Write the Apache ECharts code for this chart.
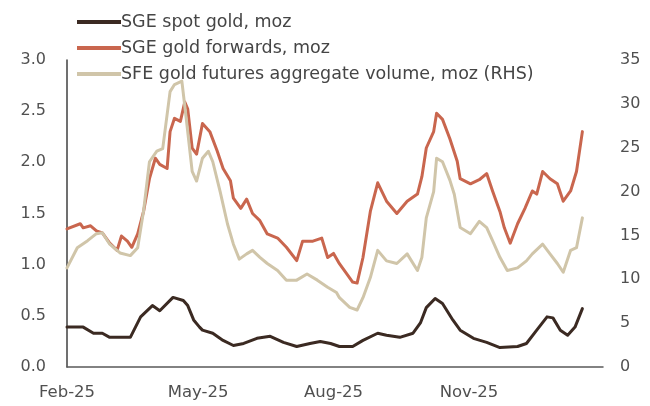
<!DOCTYPE html>
<html>
<head>
<meta charset="utf-8">
<script src="https://cdn.jsdelivr.net/npm/echarts@6/dist/echarts.min.js"></script>
<style>
html,body{margin:0;padding:0;background:#fff;}
#chart{width:650px;height:406px;}
</style>
</head>
<body>
<div id="chart"></div>
<script>
// ---- Data ----
var seriesNames = ['SGE spot gold, moz', 'SGE gold forwards, moz', 'SFE gold futures aggregate volume, moz (RHS)'];
var xTickDates = ['2025-02-01', '2025-05-01', '2025-08-01', '2025-11-01'];
var xMin = '2025-02-01';
var xMax = '2026-01-31';
var leftTicks = [0, 0.5, 1.0, 1.5, 2.0, 2.5, 3.0];
var rightTicks = [0, 5, 10, 15, 20, 25, 30, 35];

var spotDates = ['2025-02-01','2025-02-12','2025-02-19','2025-02-25','2025-03-02','2025-03-16','2025-03-23','2025-03-31','2025-04-05','2025-04-14','2025-04-21','2025-04-24','2025-04-28','2025-05-02','2025-05-04','2025-05-11','2025-05-18','2025-05-25','2025-06-01','2025-06-10','2025-06-19','2025-06-28','2025-07-07','2025-07-16','2025-07-23','2025-07-30','2025-08-05','2025-08-14','2025-08-21','2025-08-31','2025-09-06','2025-09-15','2025-09-24','2025-09-29','2025-10-03','2025-10-09','2025-10-14','2025-10-21','2025-10-26','2025-11-04','2025-11-13','2025-11-22','2025-12-04','2025-12-10','2025-12-17','2025-12-24','2025-12-28','2026-01-02','2026-01-07','2026-01-12','2026-01-17'];
var spotValues = [0.39,0.39,0.33,0.33,0.29,0.29,0.49,0.60,0.55,0.68,0.65,0.60,0.46,0.39,0.36,0.33,0.26,0.21,0.23,0.28,0.30,0.24,0.20,0.23,0.25,0.23,0.20,0.20,0.26,0.33,0.31,0.29,0.33,0.43,0.58,0.67,0.62,0.46,0.36,0.28,0.24,0.19,0.20,0.23,0.36,0.49,0.48,0.36,0.31,0.39,0.57];

var fwdDates = ['2025-02-01','2025-02-10','2025-02-12','2025-02-17','2025-02-21','2025-02-25','2025-03-02','2025-03-07','2025-03-10','2025-03-14','2025-03-17','2025-03-21','2025-03-25','2025-03-29','2025-04-02','2025-04-05','2025-04-10','2025-04-12','2025-04-15','2025-04-19','2025-04-22','2025-04-24','2025-04-27','2025-04-30','2025-05-04','2025-05-09','2025-05-14','2025-05-18','2025-05-23','2025-05-25','2025-05-30','2025-06-03','2025-06-07','2025-06-12','2025-06-17','2025-06-24','2025-06-30','2025-07-07','2025-07-11','2025-07-18','2025-07-24','2025-07-28','2025-08-01','2025-08-05','2025-08-10','2025-08-14','2025-08-17','2025-08-21','2025-08-26','2025-08-31','2025-09-06','2025-09-13','2025-09-20','2025-09-27','2025-09-30','2025-10-03','2025-10-08','2025-10-10','2025-10-14','2025-10-19','2025-10-24','2025-10-26','2025-11-02','2025-11-08','2025-11-13','2025-11-17','2025-11-22','2025-11-25','2025-11-29','2025-12-04','2025-12-09','2025-12-14','2025-12-17','2025-12-21','2025-12-26','2025-12-31','2026-01-04','2026-01-09','2026-01-13','2026-01-17'];
var fwdValues = [1.35,1.40,1.36,1.38,1.33,1.31,1.21,1.14,1.28,1.23,1.17,1.30,1.52,1.84,2.04,1.98,1.94,2.30,2.43,2.40,2.59,2.52,2.14,2.08,2.38,2.30,2.11,1.94,1.82,1.65,1.55,1.64,1.50,1.43,1.30,1.26,1.17,1.04,1.23,1.23,1.26,1.07,1.11,1.01,0.91,0.83,0.82,1.07,1.52,1.80,1.62,1.50,1.62,1.69,1.86,2.14,2.30,2.48,2.42,2.23,2.01,1.84,1.79,1.83,1.89,1.72,1.52,1.36,1.21,1.40,1.55,1.72,1.69,1.91,1.84,1.79,1.62,1.72,1.91,2.30];

var sfeDates = ['2025-02-01','2025-02-08','2025-02-15','2025-02-21','2025-02-25','2025-03-02','2025-03-09','2025-03-16','2025-03-21','2025-03-25','2025-03-29','2025-04-03','2025-04-07','2025-04-12','2025-04-15','2025-04-20','2025-04-23','2025-04-27','2025-04-30','2025-05-04','2025-05-08','2025-05-11','2025-05-16','2025-05-21','2025-05-25','2025-05-29','2025-06-03','2025-06-07','2025-06-12','2025-06-17','2025-06-24','2025-06-30','2025-07-07','2025-07-14','2025-07-21','2025-07-28','2025-08-03','2025-08-05','2025-08-12','2025-08-17','2025-08-21','2025-08-26','2025-08-31','2025-09-06','2025-09-13','2025-09-20','2025-09-27','2025-09-30','2025-10-03','2025-10-08','2025-10-10','2025-10-14','2025-10-19','2025-10-22','2025-10-26','2025-11-02','2025-11-08','2025-11-13','2025-11-17','2025-11-22','2025-11-27','2025-12-04','2025-12-10','2025-12-14','2025-12-21','2025-12-26','2025-12-31','2026-01-04','2026-01-09','2026-01-13','2026-01-17'];
var sfeValues = [11.3,13.6,14.4,15.2,15.3,14.0,13.0,12.7,13.6,17.8,23.4,24.6,24.9,31.4,32.2,32.6,28.3,22.3,21.2,23.8,24.6,23.4,20.0,16.3,14.0,12.3,12.9,13.3,12.5,11.8,11.0,9.9,9.9,10.6,9.9,9.1,8.5,7.9,6.8,6.5,7.9,10.2,13.3,12.1,11.8,12.9,11.0,12.5,17.0,20.0,23.8,23.4,21.3,19.7,15.9,15.2,16.6,15.9,14.4,12.5,11.0,11.3,12.1,12.9,14.0,12.9,11.8,10.8,13.3,13.6,17.0];

var colors = ['#3b2a22', '#c9664e', '#d0c5a9'];

function ts(s) { var p = s.split('-'); return new Date(+p[0], +p[1] - 1, +p[2]).getTime(); }
function pairs(d, v) { return d.map(function (x, i) { return [ts(x), v[i]]; }); }
var monthNames = ['Jan','Feb','Mar','Apr','May','Jun','Jul','Aug','Sep','Oct','Nov','Dec'];

var font = 'DejaVu Sans';
var chart = echarts.init(document.getElementById('chart'), null, {renderer: 'canvas'});
chart.setOption({
  animation: false,
  backgroundColor: '#ffffff',
  color: colors,
  textStyle: {fontFamily: font},
  legend: {
    orient: 'vertical',
    left: 72,
    top: 8,
    itemGap: 8,
    itemWidth: 44,
    itemHeight: 4,
    icon: 'rect',
    textStyle: {fontSize: 17.5, color: '#454545', fontFamily: font, padding: [0, 0, 0, -5]},
    data: seriesNames
  },
  grid: {left: 67, right: 47, top: 60, bottom: 39, containLabel: false},
  xAxis: {
    type: 'value',
    min: ts(xMin),
    max: ts(xMax),
    axisLine: {show: true, onZero: false, lineStyle: {color: '#595959', width: 1.5}},
    axisTick: {show: false},
    splitLine: {show: false},
    axisLabel: {
      customValues: xTickDates.map(ts),
      color: '#505050',
      fontSize: 16.5,
      fontFamily: font,
      margin: 17,
      hideOverlap: false,
      showMinLabel: true,
      formatter: function (v) {
        var d = new Date(v);
        return monthNames[d.getMonth()] + '-' + String(d.getFullYear()).slice(2);
      }
    }
  },
  yAxis: [
    {
      type: 'value', min: leftTicks[0], max: leftTicks[leftTicks.length - 1], interval: 0.5,
      axisLine: {show: true, lineStyle: {color: '#404040', width: 1.5}},
      axisTick: {show: false},
      splitLine: {show: false},
      axisLabel: {color: '#505050', fontSize: 16, fontFamily: font, margin: 21,
        formatter: function (v) { return v.toFixed(1); }}
    },
    {
      type: 'value', min: rightTicks[0], max: rightTicks[rightTicks.length - 1], interval: 5,
      axisLine: {show: false},
      axisTick: {show: false},
      splitLine: {show: false},
      axisLabel: {color: '#505050', fontSize: 16, fontFamily: font, margin: 17}
    }
  ],
  series: [
    {name: seriesNames[0], type: 'line', yAxisIndex: 0, showSymbol: false, symbol: 'none',
     lineStyle: {width: 3, color: colors[0], cap: 'round', join: 'round'}, data: pairs(spotDates, spotValues)},
    {name: seriesNames[1], type: 'line', yAxisIndex: 0, showSymbol: false, symbol: 'none',
     lineStyle: {width: 3, color: colors[1], cap: 'round', join: 'round'}, data: pairs(fwdDates, fwdValues)},
    {name: seriesNames[2], type: 'line', yAxisIndex: 1, showSymbol: false, symbol: 'none',
     lineStyle: {width: 3, color: colors[2], cap: 'round', join: 'round'}, data: pairs(sfeDates, sfeValues)}
  ]
});
</script>
</body>
</html>
